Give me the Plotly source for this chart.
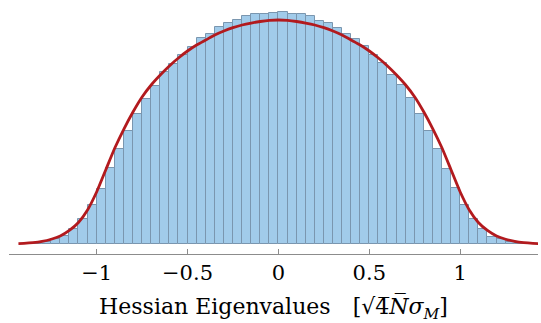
import plotly.graph_objects as go

# Histogram of Hessian eigenvalues (bin width 0.05, normalised density)
bin_left = [round(-1.40 + 0.05 * i, 2) for i in range(56)]
bin_width = 0.05
density = [
    0.001, 0.002, 0.005, 0.013, 0.023, 0.042, 0.071, 0.111,
    0.156, 0.215, 0.269, 0.322, 0.369, 0.412, 0.449, 0.489,
    0.511, 0.537, 0.560, 0.584, 0.597, 0.616, 0.627, 0.636,
    0.648, 0.653, 0.653, 0.657, 0.658, 0.653, 0.653, 0.648,
    0.634, 0.627, 0.613, 0.597, 0.582, 0.563, 0.536, 0.513,
    0.480, 0.452, 0.414, 0.368, 0.321, 0.269, 0.213, 0.158,
    0.111, 0.071, 0.042, 0.020, 0.013, 0.005, 0.002, 0.001,
]

# Theoretical spectral density
curve_x = [-1.43, -1.40, -1.35, -1.30, -1.25, -1.20, -1.15, -1.10, -1.05, -1.00,
           -0.95, -0.90, -0.85, -0.80, -0.75, -0.70, -0.65, -0.60, -0.55, -0.50,
           -0.45, -0.40, -0.35, -0.30, -0.25, -0.20, -0.15, -0.10, -0.05, 0.00,
           0.05, 0.10, 0.15, 0.20, 0.25, 0.30, 0.35, 0.40, 0.45, 0.50,
           0.55, 0.60, 0.65, 0.70, 0.75, 0.80, 0.85, 0.90, 0.95, 1.00,
           1.05, 1.10, 1.15, 1.20, 1.25, 1.30, 1.35, 1.40, 1.43]
curve_y = [0.0011, 0.0017, 0.0037, 0.0074, 0.0136, 0.0227, 0.0384, 0.0611, 0.0966, 0.1477,
           0.2102, 0.2727, 0.3267, 0.3750, 0.4176, 0.4517, 0.4801, 0.5057, 0.5284, 0.5483,
           0.5653, 0.5795, 0.5938, 0.6051, 0.6145, 0.6222, 0.6278, 0.6321, 0.6352, 0.6364,
           0.6352, 0.6321, 0.6278, 0.6222, 0.6145, 0.6051, 0.5938, 0.5795, 0.5653, 0.5483,
           0.5284, 0.5057, 0.4801, 0.4517, 0.4176, 0.3750, 0.3267, 0.2727, 0.2102, 0.1477,
           0.0966, 0.0611, 0.0384, 0.0227, 0.0136, 0.0074, 0.0037, 0.0017, 0.0011]

tick_vals = [-1, -0.5, 0, 0.5, 1]
tick_text = ["\u22121", "\u22120.5", "0", "0.5", "1"]

bin_centers = [b + bin_width / 2 for b in bin_left]

fig = go.Figure()
fig.add_trace(go.Bar(
    x=bin_centers, y=density, width=bin_width,
    marker=dict(color="rgb(161,203,234)",
                line=dict(color="rgb(122,150,175)", width=1)),
    hoverinfo="skip",
))
fig.add_trace(go.Scatter(
    x=curve_x, y=curve_y, mode="lines",
    line=dict(color="rgb(178,26,30)", width=2.8, shape="spline", smoothing=0.6),
    hoverinfo="skip",
))

fig.update_layout(
    width=541, height=323,
    margin=dict(l=9, r=3, t=0, b=69),
    plot_bgcolor="white", paper_bgcolor="white",
    showlegend=False, bargap=0,
    font=dict(family="DejaVu Serif", color="black"),
)
fig.update_xaxes(
    range=[-1.482, 1.428],
    showgrid=False, zeroline=False,
    showline=True, linecolor="rgb(140,140,140)", linewidth=1.3,
    ticks="inside", ticklen=5, tickcolor="rgb(140,140,140)", tickwidth=1,
    tickvals=tick_vals, ticktext=tick_text,
    tickfont=dict(family="DejaVu Serif", size=21, color="black"),
    title=dict(
        text="Hessian Eigenvalues\u2003[\u221a4\u0305<i>N\u0305</i><i>\u03c3</i><sub><i>M</i></sub>]",
        font=dict(family="DejaVu Serif", size=22, color="black"),
        standoff=18,
    ),
)
fig.update_yaxes(
    range=[-0.0284, 0.6932],
    visible=False, showgrid=False, zeroline=False,
)

fig.write_html("out.html")
